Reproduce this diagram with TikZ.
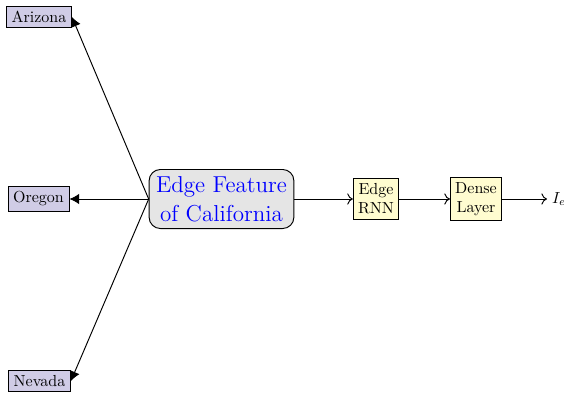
\documentclass[tikz,border=0pt]{standalone}
\usetikzlibrary{arrows.meta}
\definecolor{statefill}{RGB}{208,204,230}
\definecolor{layerfill}{RGB}{255,252,208}
\definecolor{featfill}{RGB}{229,229,229}
\begin{document}
\begin{tikzpicture}[x=0.625pt,y=-0.625pt,
  every node/.style={font=\normalsize},
  state/.style={draw,semithick,fill=statefill,inner sep=3.2pt},
  layer/.style={draw,semithick,fill=layerfill,align=center,inner sep=3pt},
  feature/.style={draw,semithick,fill=featfill,rounded corners=7pt,align=center,
    font=\Large,text=blue,inner sep=4.3pt},
  feed/.style={semithick,-{Latex[length=6pt,width=6.5pt]}},
  flow/.style={semithick,-{To[length=3.5pt,width=7pt]}}]
  \useasboundingbox (0,0) rectangle (564,394);
  \node[state] (az) at (39,17) {Arizona};
  \node[state] (or) at (38.5,199) {Oregon};
  \node[state] (nv) at (39.5,381) {Nevada};
  \node[feature] (ca) at (221.5,199) {Edge Feature\\of California};
  \node[layer] (rnn) at (376,199) {Edge\\RNN};
  \node[layer] (dense) at (476,199) {Dense\\Layer};
  \coordinate (out) at (547,199);
  \node[anchor=west,inner sep=3pt] (ie) at (out) {$I_e$};
  \draw[feed] (ca.west) -- (az.east);
  \draw[feed] (ca.west) -- (or.east);
  \draw[feed] (ca.west) -- (nv.east);
  \draw[flow] (ca.east) -- (rnn.west);
  \draw[flow] (rnn.east) -- (dense.west);
  \draw[flow] (dense.east) -- (out);
\end{tikzpicture}
\end{document}
